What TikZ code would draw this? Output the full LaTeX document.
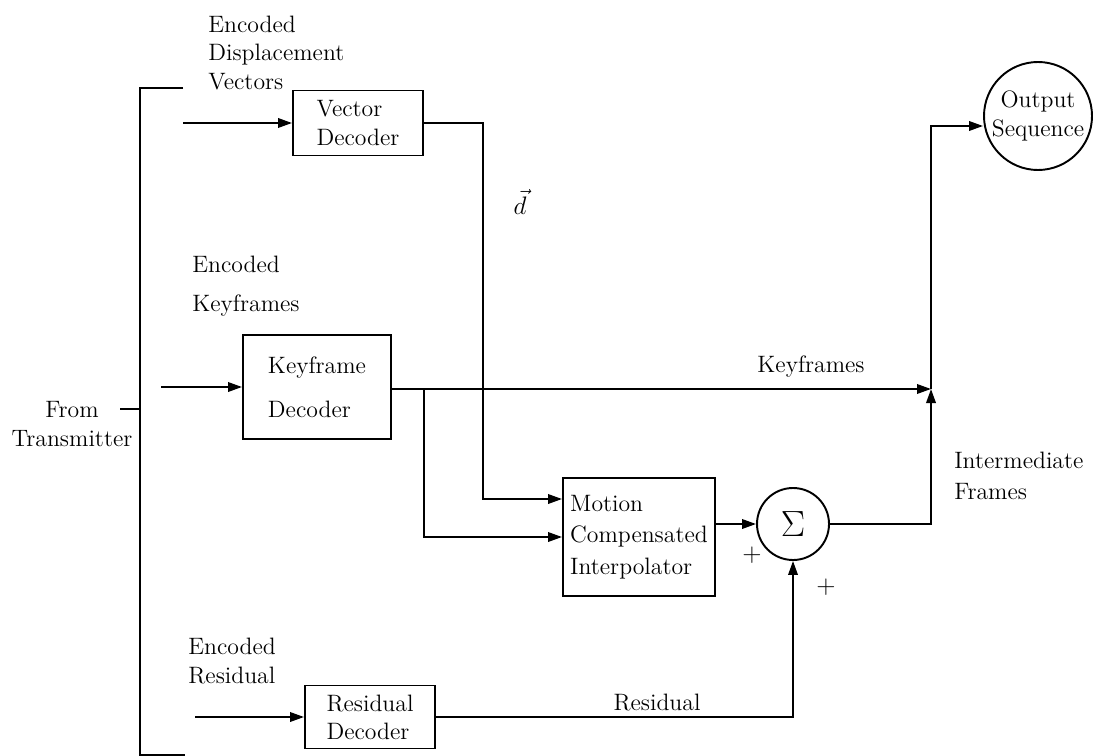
\documentclass[tikz,border=0pt]{standalone}
\usepackage{amsmath,amssymb}
\usetikzlibrary{arrows.meta,calc,positioning}
\tikzset{
    >={Triangle[length=2.8mm,width=1.9mm]},
    flow/.style={line width=1.1pt, ->},
    wire/.style={line width=1.1pt},
    block/.style={draw, line width=1.1pt, rectangle, inner sep=2pt,
                 align=left},
    sum node/.style={circle, draw, line width=1.1pt, minimum size=14.4mm,
                    inner sep=0pt, font=\fontsize{20}{24}\selectfont},
    sink node/.style={circle, draw, line width=1.1pt, minimum size=21.6mm,
                     inner sep=0pt, align=center},
    label text/.style={align=left, inner sep=0pt},
}

\begin{document}
\begin{tikzpicture}[x=0.2mm, y=-0.2mm, font=\fontsize{13.5}{16}\selectfont]
\useasboundingbox (0,0) rectangle (1097,756);

% Receiver front end: the bracket splitting the transmitted stream.
\coordinate (btop) at (183,88);
\coordinate (bbot) at (185,755);
\coordinate (bmid) at (140,409);
\coordinate (bfeed) at (120,409);
\draw[wire] (btop) -- (140,88) -- (140,755) -- (bbot);
\draw[wire] (bfeed) -- (bmid);
\node[label text, align=center] (from) at (72,424)
    {From\\[1pt]Transmitter};

% Decoders.
\node[block, minimum width=26mm, minimum height=13mm] (vecdec) at (358,123)
    {Vector\\Decoder};
\node[block, minimum width=29.6mm, minimum height=20.8mm] (keydec) at (317,387)
    {Keyframe\\[9pt]Decoder};
\node[block, minimum width=26mm, minimum height=12.6mm] (resdec) at (370,717)
    {Residual\\Decoder};
\node[block, minimum width=30.4mm, minimum height=23.6mm] (motion) at (639,537)
    {Motion\\[2pt]Compensated\\[2pt]Interpolator};
\node[sum node] (sum) at (793,524) {$\Sigma$};
\node[sink node] (out) at (1038,116) {Output\\Sequence};

% Stream labels.
\node[label text, anchor=west] (encvec) at (208,53)
    {Encoded\\Displacement\\Vectors};
\node[label text, anchor=west] (enckey) at (192,286)
    {Encoded\\[6pt]Keyframes};
\node[label text, anchor=west] (encres) at (188,661)
    {Encoded\\Residual};

% Inputs from the bracket.
\coordinate (vin) at (183,123);
\coordinate (kin) at (161,387);
\coordinate (rin) at (195,717);
\draw[flow] (vin) -- (vecdec);
\draw[flow] (kin) -- (keydec);
\draw[flow] (rin) -- (resdec);

% Displacement vectors into the interpolator.
\coordinate (dturn) at (483,499);
\draw[flow] (vecdec.east) -| (dturn) -- (dturn -| motion.west);
\node (dvec) at (520,202) {$\vec{d}$};

% Keyframes: straight to the output, and a branch to the interpolator.
\coordinate (merge) at (931,389);
\coordinate (ksplit) at (424,389);
\draw[flow] (keydec.east |- merge) -- (merge);
\draw[flow] (ksplit) |- (motion.west);
\node (keylab) at (811,367) {Keyframes};

% Interpolated frames plus residual.
\draw[flow] (motion.east |- sum.west) -- (sum.west);
\draw[flow] (resdec.east) -| (sum.south);
\node (reslab) at (657,703) {Residual};
\node (plusa) at (752,555) {$+$};
\node (plusb) at (826,587) {$+$};

% Intermediate frames join the keyframes on the way out.
\coordinate (otop) at (931,126);
\draw[flow] (sum.east) -| (merge);
\draw[flow] (merge) -- (otop) -- (otop -| out.west);
\node[label text, anchor=west] (intlab) at (954,476)
    {Intermediate\\[2pt]Frames};

\end{tikzpicture}
\end{document}
